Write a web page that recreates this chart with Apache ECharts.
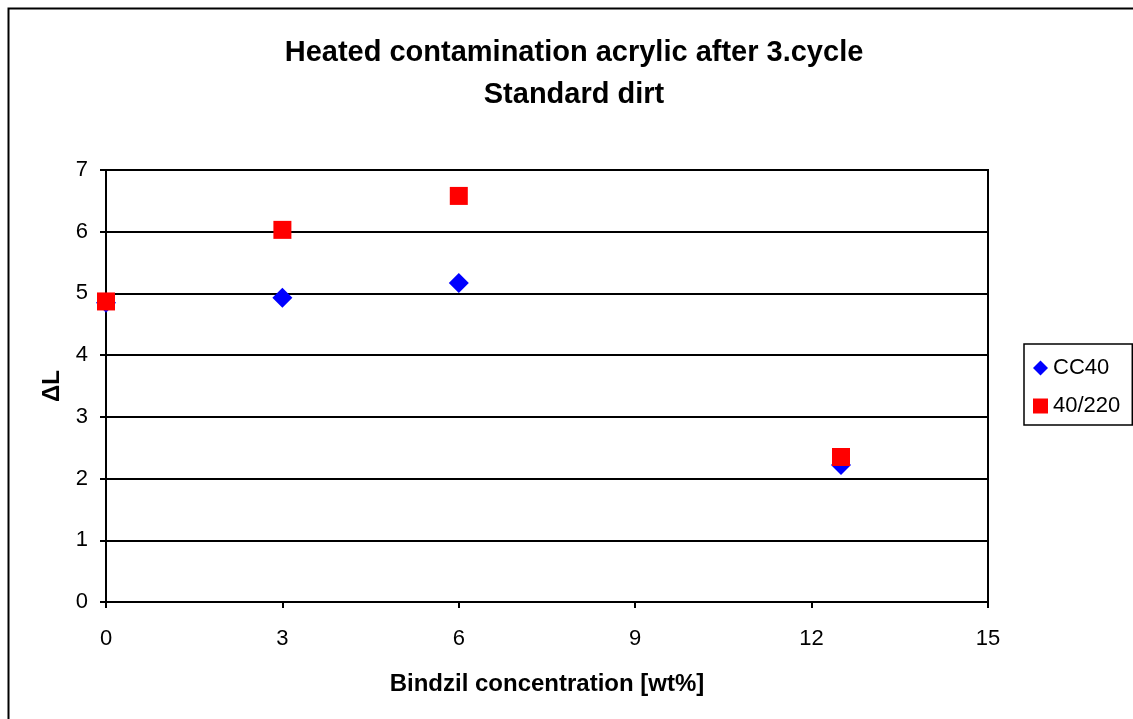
<!doctype html>
<html>
<head>
<meta charset="utf-8"/>
<title>Heated contamination acrylic</title>
<script src="https://cdn.jsdelivr.net/npm/echarts@6/dist/echarts.min.js"></script>
<style>
*{margin:0;padding:0;}
body{background:#fff;}
#main{width:1133px;height:719px;}
</style>
</head>
<body>
<div id="main"></div>
<script type="text/javascript">
// data
var concentration = [0, 3, 6, 12.5];
var cc40 = [4.85, 4.93, 5.17, 2.22];
var p40_220 = [4.87, 6.03, 6.58, 2.35];
var seriesNames = ['CC40', '40/220'];

function pairs(xs, ys) {
  return xs.map(function (x, i) { return [x, ys[i]]; });
}

var font = 'Liberation Sans, Arial, sans-serif';
var chart = echarts.init(document.getElementById('main'));
var option = {
  animation: false,
  backgroundColor: '#fff',
  textStyle: {fontFamily: font},
  graphic: [
    {
      // outer chart frame
      type: 'rect',
      shape: {x: 8.5, y: 8.5, width: 1140, height: 730},
      style: {fill: 'none', stroke: '#000', lineWidth: 2},
      silent: true
    },
    {
      // plot box
      type: 'rect',
      shape: {x: 106, y: 170, width: 882, height: 432},
      style: {fill: 'none', stroke: '#000', lineWidth: 2},
      silent: true, z: 1
    }
  ],
  title: {
    text: 'Heated contamination acrylic after 3.cycle\nStandard dirt',
    left: 569, top: 27, textAlign: 'center',
    textStyle: {fontFamily: font, fontSize: 29, fontWeight: 'bold', color: '#000', lineHeight: 42}
  },
  legend: {
    orient: 'vertical',
    left: 1024, top: 344,
    padding: [13, 12, 8, 9],
    itemGap: 16,
    itemWidth: 15, itemHeight: 15,
    borderColor: '#000', borderWidth: 1.5,
    textStyle: {fontFamily: font, fontSize: 22, color: '#000'},
    data: seriesNames
  },
  grid: {left: 106, top: 170, right: 145, bottom: 117, containLabel: false},
  xAxis: {
    type: 'value', min: 0, max: 15, interval: 3,
    name: 'Bindzil concentration [wt%]',
    nameLocation: 'middle', nameGap: 70,
    nameTextStyle: {fontFamily: font, fontSize: 24, fontWeight: 'bold', color: '#000'},
    axisLine: {show: true, onZero: false, lineStyle: {color: '#000', width: 2}},
    axisTick: {show: true, inside: false, length: 6, lineStyle: {color: '#000', width: 2}},
    axisLabel: {fontFamily: font, fontSize: 22, color: '#000', margin: 26},
    splitLine: {show: false}
  },
  yAxis: {
    type: 'value', min: 0, max: 7, interval: 1,
    name: 'ΔL',
    nameLocation: 'middle', nameGap: 36, nameRotate: 90,
    nameTextStyle: {fontFamily: font, fontSize: 24, fontWeight: 'bold', color: '#000'},
    axisLine: {show: true, lineStyle: {color: '#000', width: 2}},
    axisTick: {show: true, length: 6, lineStyle: {color: '#000', width: 2}},
    axisLabel: {fontFamily: font, fontSize: 22, color: '#000', margin: 18},
    splitLine: {show: true, lineStyle: {color: '#000', width: 2}}
  },
  series: [
    {
      name: 'CC40', type: 'scatter',
      symbol: 'diamond', symbolSize: 20,
      itemStyle: {color: '#0000ff', opacity: 1},
      data: pairs(concentration, cc40)
    },
    {
      name: '40/220', type: 'scatter',
      symbol: 'rect', symbolSize: 18,
      itemStyle: {color: '#ff0000', opacity: 1},
      data: pairs(concentration, p40_220)
    }
  ]
};
chart.setOption(option);
</script>
</body>
</html>
